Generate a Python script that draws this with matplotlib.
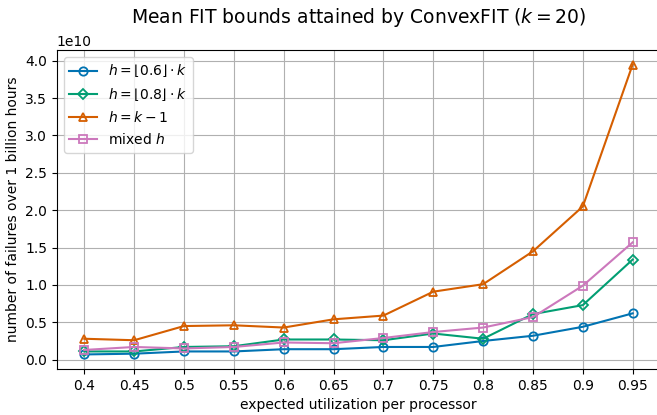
import matplotlib
matplotlib.use("Agg")
import matplotlib.pyplot as plt

# expected utilization per processor
utilization = [0.4, 0.45, 0.5, 0.55, 0.6, 0.65, 0.7, 0.75, 0.8, 0.85, 0.9, 0.95]
tick_labels = ["0.4", "0.45", "0.5", "0.55", "0.6", "0.65", "0.7", "0.75", "0.8", "0.85", "0.9", "0.95"]

# mean FIT bounds (x 1e10)
fit_h06 = [0.07, 0.08, 0.11, 0.11, 0.14, 0.14, 0.17, 0.17, 0.25, 0.32, 0.44, 0.62]
fit_h08 = [0.11, 0.11, 0.17, 0.18, 0.27, 0.27, 0.26, 0.35, 0.28, 0.61, 0.73, 1.34]
fit_hk1 = [0.28, 0.26, 0.45, 0.46, 0.43, 0.54, 0.59, 0.91, 1.01, 1.45, 2.05, 3.95]
fit_mixed = [0.13, 0.17, 0.15, 0.17, 0.23, 0.22, 0.29, 0.37, 0.43, 0.57, 0.99, 1.57]

series = [
    (fit_h06, r"$h = \lfloor 0.6 \rfloor \cdot k$", "#0173b2", "o", 6),
    (fit_h08, r"$h = \lfloor 0.8 \rfloor \cdot k$", "#029e73", "D", 5.5),
    (fit_hk1, r"$h = k - 1$", "#d55e00", "^", 6),
    (fit_mixed, r"mixed $h$", "#cc78bc", "s", 6),
]

fig, ax = plt.subplots(figsize=(6.57, 4.15), dpi=100)
fig.subplots_adjust(left=0.0866, right=1.0047, top=0.8795, bottom=0.111)

for vals, label, color, marker, ms in series:
    ax.plot(utilization, [v * 1e10 for v in vals], color=color, marker=marker,
            markerfacecolor="none", markersize=ms, markeredgewidth=1.3,
            linewidth=1.5, label=label)

ax.set_xticks(utilization)
ax.set_xticklabels(tick_labels)
ax.set_yticks([i * 0.5e10 for i in range(9)])
ax.grid(True, color="#b0b0b0", linewidth=0.8)
ax.set_axisbelow(True)
ax.set_xlabel("expected utilization per processor")
ax.set_ylabel("number of failures over 1 billion hours")
ax.set_title(r"Mean FIT bounds attained by ConvexFIT ($k = 20$)", fontsize=13.5,
             y=1.0, pad=19.5)
ax.legend(loc="upper left")

fig.savefig("out.png", dpi=100)
